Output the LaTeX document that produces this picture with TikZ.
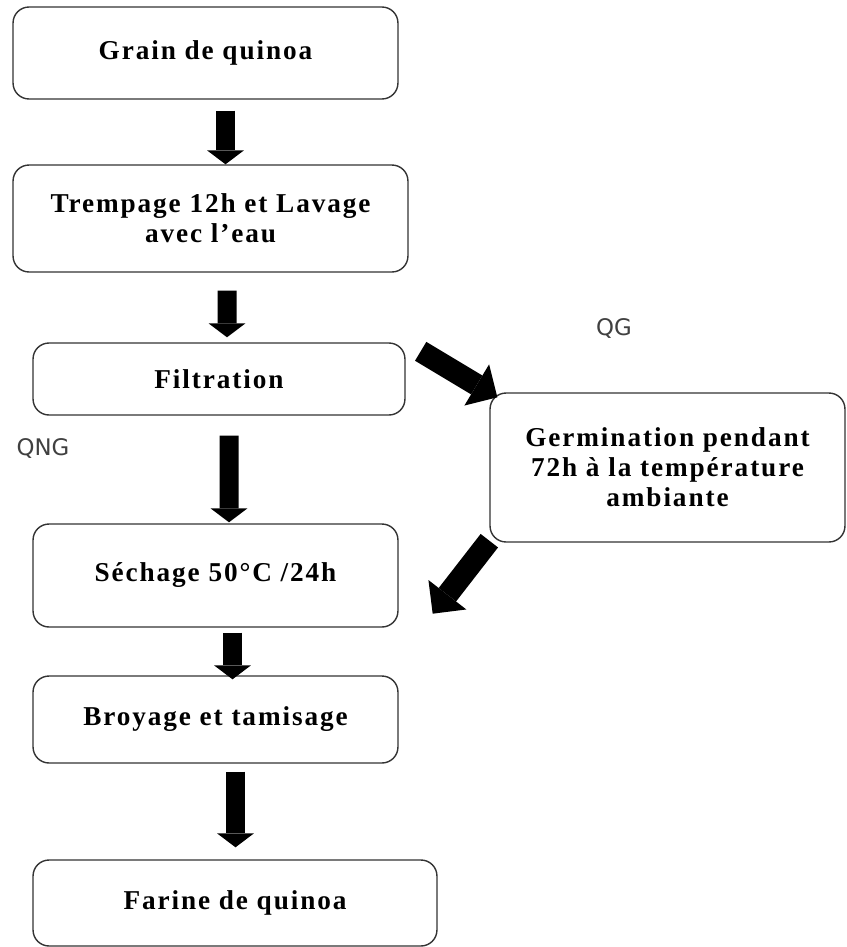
\documentclass[tikz,border=0pt]{standalone}
\usepackage{fontspec}
\setmainfont{Liberation Serif}
\newfontfamily\boxfont[LetterSpace=7]{Liberation Serif}
\newfontfamily\labelfont{DejaVu Sans}
\usepackage{tikz}
\usetikzlibrary{arrows.meta}

\tikzset{
  stepbox/.style={draw=black!80, line width=0.8pt, rounded corners=0.32cm, align=center, inner sep=0pt,
    font=\boxfont\bfseries\fontsize{15.5}{17}\selectfont},
  flowarrow/.style={line width=0.38cm, -{Triangle[width=0.74cm,length=0.28cm,line width=0pt]}},
  sidearrow/.style={line width=0.44cm, -{Triangle[width=0.96cm,length=0.48cm,line width=0pt]}},
  branchlabel/.style={font=\labelfont\fontsize{13}{15}\selectfont, text=black!75}
}

\begin{document}
\begin{tikzpicture}[x=0.02cm,y=-0.02cm]
   \useasboundingbox (0,0) rectangle (846,947);
   \node (grain) at (205.5,53) [stepbox, minimum width=7.7cm, minimum height=1.84cm] {Grain de quinoa};
   \node (tremp) at (210.5,218.5) [stepbox, minimum width=7.9cm, minimum height=2.14cm] {Trempage 12h et Lavage\\avec l’eau};
   \node (filt) at (219,379) [stepbox, minimum width=7.44cm, minimum height=1.44cm] {Filtration};
   \node (germ) at (667.5,467.5) [stepbox, minimum width=7.1cm, minimum height=2.98cm] {Germination pendant\\72h à la température\\ambiante};
   \node (sech) at (215.5,575.5) [stepbox, minimum width=7.3cm, minimum height=2.06cm] {Séchage 50°C /24h};
   \node (broy) at (215.5,719.5) [stepbox, minimum width=7.3cm, minimum height=1.74cm] {Broyage et tamisage};
   \node (farine) at (235,903) [stepbox, minimum width=8.08cm, minimum height=1.72cm] {Farine de quinoa};
   \node (qg) at (614,328) [branchlabel] {QG};
   \node (qng) at (43,448) [branchlabel] {QNG};

   \draw[flowarrow] ([shift={(20,11)}]grain.south) -- ([shift={(15,0)}]tremp.north);
   \draw[flowarrow] ([shift={(16.5,18)}]tremp.south) -- ([shift={(8,-5)}]filt.north);
   \draw[flowarrow] ([shift={(10,20)}]filt.south) -- ([shift={(13.5,-1)}]sech.north);
   \draw[flowarrow] ([shift={(17,5)}]sech.south) -- ([shift={(17,4)}]broy.north);
   \draw[flowarrow] ([shift={(20,8)}]broy.south) -- ([shift={(0.5,-12)}]farine.north);
   \draw[sidearrow] ([shift={(15,9)}]filt.north east) -- ([shift={(8,5)}]germ.north west);
   \draw[sidearrow] ([shift={(0,-2)}]germ.south west) -- ([shift={(34,-14)}]sech.south east);
\end{tikzpicture}
\end{document}
